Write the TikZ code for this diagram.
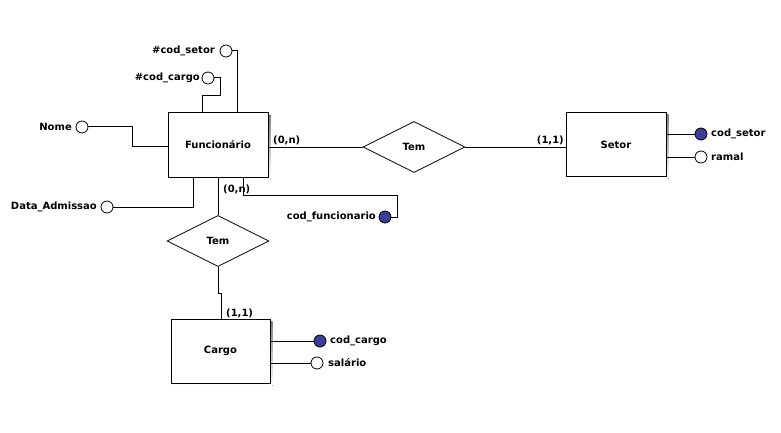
\documentclass[tikz,border=0pt]{standalone}
\usepackage{fontspec}
\setmainfont{DejaVu Sans}
\usetikzlibrary{calc,shapes.geometric}
\definecolor{keyfill}{HTML}{3C3C99}
\definecolor{shade}{HTML}{A0A0A0}
\tikzset{
  x=1pt, y=-1pt,
  every node/.style={font=\fontsize{10}{12}\selectfont\bfseries, inner sep=0pt},
  link/.style={draw=black, line width=1pt},
  entity/.style={draw=black, line width=1pt, fill=white, minimum width=100pt, minimum height=64pt},
  relation/.style={draw=black, line width=0.8pt, fill=white, diamond, minimum width=102pt, minimum height=51pt, aspect=2},
  attr/.style={circle, draw=black, line width=0.8pt, fill=white, minimum size=12pt},
  keyattr/.style={attr, fill=keyfill}
}
\begin{document}
\begin{tikzpicture}
\useasboundingbox (0,0) rectangle (781,433);
% shadows behind the entity boxes
\fill[shade] (170.5,115.5) rectangle (270.5,179.5);
\fill[shade] (568.5,115) rectangle (668.5,178.5);
\fill[shade] (173,321.5) rectangle (272.5,385.5);
% entities
\node[entity] (func) at (218,145) {Funcionário};
\node[entity] (setor) at (616,144.5) {Setor};
\node[entity, minimum width=99pt] (cargo) at (220.5,351) {Cargo};
% relationships
\node[relation] (tem1) at (414,147) {Tem};
\node[relation] (tem2) at (218,241) {Tem};
% attributes
\node[attr] (ccsetor) at (226,51) {};
\node[anchor=east] at (215,51) {\#cod\_setor};
\node[attr] (cccargo) at (208,78) {};
\node[anchor=east] at (200,78) {\#cod\_cargo};
\node[attr] (nome) at (82,127) {};
\node[anchor=east] at (72,127) {Nome};
\node[attr] (data) at (107,207) {};
\node[anchor=east] at (97,207) {Data\_Admissao};
\node[keyattr] (codfunc) at (385,217) {};
\node[anchor=east] at (376,217) {cod\_funcionario};
\node[keyattr] (codsetor) at (701,134) {};
\node[anchor=west] at (711,134) {cod\_setor};
\node[attr] (ramal) at (701,157) {};
\node[anchor=west] at (711,157) {ramal};
\node[keyattr] (codcargo) at (320,341) {};
\node[anchor=west] at (330,341) {cod\_cargo};
\node[attr] (salario) at (317,363) {};
\node[anchor=west] at (328,363) {salário};
% cardinalities
\node[anchor=west] at (273,140) {(0,n)};
\node[anchor=east] at (564,140) {(1,1)};
\node[anchor=west] at (223,189) {(0,n)};
\node[anchor=west] at (226,313) {(1,1)};
% attribute links of Funcionário
\draw[link] (ccsetor.east) -| (func.north -| 237,0);
\coordinate (cgbend) at (220,96);
\draw[link] (cccargo.east) -| (cgbend) -| (func.north -| 202,0);
\coordinate (nmbend) at (132,146);
\draw[link] (nome.east) -| (nmbend) -- (func.west |- nmbend);
\draw[link] (data.east) -| (func.south -| 193,0);
\coordinate (cfbend) at (397,195);
\draw[link] (func.south -| 243,0) |- (cfbend) |- (codfunc.east);
% relationship Funcionário - Setor
\draw[link] (func.east |- tem1.west) -- (tem1.west);
\draw[link] (tem1.east) -- (setor.west |- tem1.east);
% relationship Funcionário - Cargo
\draw[link] (func.south -| tem2.north) -- (tem2.north);
\coordinate (jog) at (221,293);
\draw[link] (tem2.south) |- (jog) -- (cargo.north -| jog);
% attribute links of Setor and Cargo
\draw[link] (setor.east |- codsetor) -- (codsetor.west);
\draw[link] (setor.east |- ramal) -- (ramal.west);
\draw[link] (cargo.east |- codcargo) -- (codcargo.west);
\draw[link] (cargo.east |- salario) -- (salario.west);
\end{tikzpicture}
\end{document}
